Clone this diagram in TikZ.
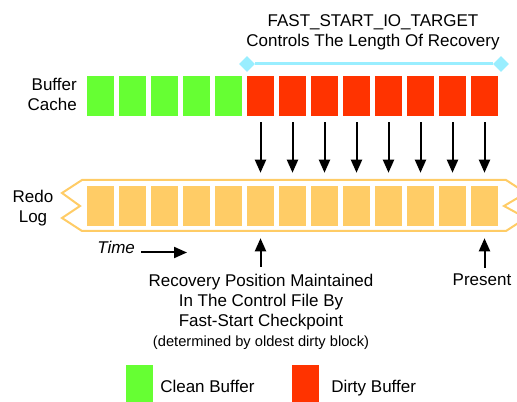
\documentclass[tikz,border=0pt]{standalone}
\usepackage{fontspec}
\setmainfont{Liberation Sans}
\usetikzlibrary{arrows.meta}
\usetikzlibrary{shapes.geometric}
\definecolor{clean}{RGB}{102,255,51}
\definecolor{dirty}{RGB}{255,51,0}
\definecolor{redo}{RGB}{255,204,102}
\definecolor{spanline}{RGB}{153,238,255}

\begin{document}
\begin{tikzpicture}[x=0.75pt,y=-0.75pt,
  every node/.style={font=\fontsize{12.75}{15}\selectfont},
  blk/.style={minimum width=20.25pt,minimum height=30pt,inner sep=0pt},
  arr/.style={line width=1.5pt,-{Triangle[length=9.75pt,width=8.25pt]}},
  ends/.style={diamond,fill=spanline,inner sep=0pt,minimum size=12pt}]
\useasboundingbox (0,0) rectangle (517,402);
\clip (0,0) rectangle (517,402);
\foreach \i in {0,...,4}
  \node[blk,fill=clean] (c\i) at (100.5+32*\i,96) {};
\foreach \i in {5,...,12}
  \node[blk,fill=dirty] (c\i) at (100.5+32*\i,96) {};
\draw[redo,line width=1.5pt]
     (82,180) -- (506,180) -- (526,193) -- (504,206) -- (526,218)
  -- (506,231) -- (82,231) -- (62,218) -- (80,206) -- (62,193) -- cycle;
\foreach \i in {0,...,12}
  \node[blk,fill=redo] (r\i) at (100.5+32*\i,206) {};
\foreach \i in {5,...,12}
  \draw[arr,shorten <=4.5pt,shorten >=9.75pt] (c\i.south) -- (r\i.north);
\node[align=center,anchor=base] (target) at (373,47)
  {FAST\_START\_IO\_TARGET\\Controls The Length Of Recovery};
\node[ends] (spanl) at (247,64) {};
\node[ends] (spanr) at (501,64) {};
\draw[spanline,line width=2.25pt] (spanl) -- (spanr);
\node[align=right,anchor=base east,inner sep=0pt] (cachelbl) at (77,111) {Buffer\\Cache};
\node[align=center,anchor=base,inner sep=0pt] (redolbl) at (33,223) {Redo\\Log};
\node[anchor=base west,inner sep=0pt,font=\fontsize{12.75}{15}\selectfont\itshape]
  (time) at (97,254) {Time};
\coordinate (later) at (187,252.5);
\draw[arr,shorten <=4.5pt] (time.east |- later) -- (later);
\node[align=center,anchor=base] (recpos) at (261,346)
  {Recovery Position Maintained\\In The Control File By\\Fast-Start Checkpoint\\
   {\fontsize{11}{14}\selectfont(determined by oldest dirty block)}};
\draw[arr,shorten <=1.5pt,shorten >=9pt] (recpos.north -| r5.south) -- (r5.south);
\node[anchor=base] (present) at (482,286) {Present};
\draw[arr,shorten <=1.5pt,shorten >=9pt] (present.north -| r12.south) -- (r12.south);
\node[blk,fill=clean] (cleankey) at (139.5,385) {};
\node[anchor=base west,inner sep=0pt] (cleantxt) at (160,392) {Clean Buffer};
\node[blk,fill=dirty] (dirtykey) at (305.5,385) {};
\node[anchor=base west,inner sep=0pt] (dirtytxt) at (331,392) {Dirty Buffer};
\end{tikzpicture}
\end{document}
